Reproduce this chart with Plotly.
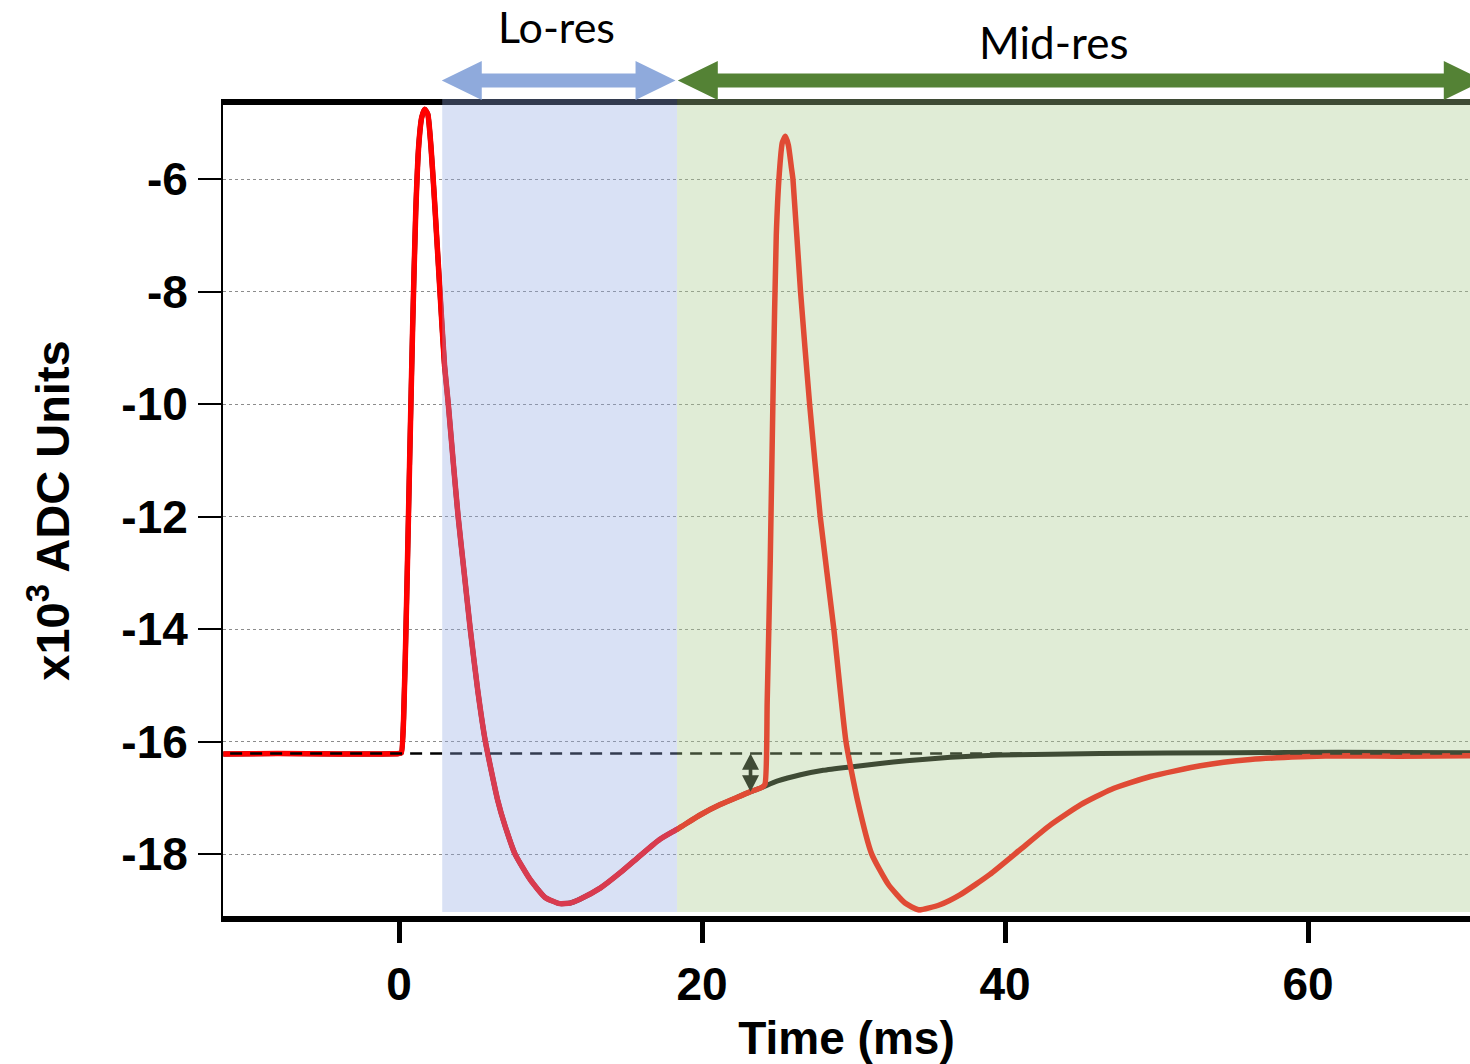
import plotly.graph_objects as go

# ---------------- data ----------------
# red trace: two-pulse response
t_red = [-11.6, -8.0, -4.0, 0.0, 0.15, 0.3, 0.5, 0.7, 0.9, 1.1, 1.3, 1.5, 1.7, 1.9, 2.1, 2.3, 2.5, 2.7,
         3.0, 3.25, 3.6, 3.9, 4.3, 4.7, 5.2, 5.7, 6.5, 7.0, 7.66, 8.65, 9.64, 10.6, 11.3, 11.95, 13.3,
         14.6, 15.9, 17.2, 18.4, 19.9, 21.2, 22.5, 23.2, 23.9, 24.15, 24.3, 24.5, 24.7, 24.9, 25.1, 25.3,
         25.5, 25.7, 25.9, 26.0, 26.5, 27.1, 27.8, 28.7, 29.5, 30.25, 31.2, 32.3, 33.4, 34.3, 35.7, 37.05,
         39.0, 41.0, 43.0, 45.0, 47.0, 49.6, 52.9, 56.2, 59.5, 62.8, 66.0, 70.7]
v_red = [-16.22, -16.21, -16.22, -16.21, -16.2, -15.6, -13.5, -11.0, -8.6, -6.6, -5.4, -4.9, -4.76, -4.85,
         -5.4, -6.2, -7.1, -8.0, -9.3, -10.0, -11.1, -12.0, -13.0, -14.0, -15.1, -16.0, -17.03, -17.5,
         -18.0, -18.45, -18.77, -18.88, -18.87, -18.8, -18.6, -18.33, -18.03, -17.74, -17.55, -17.3,
         -17.12, -16.97, -16.89, -16.82, -16.76, -15.3, -12.8, -9.6, -7.0, -5.9, -5.35, -5.24, -5.4, -5.8,
         -6.0, -8.0, -10.0, -12.0, -14.0, -16.0, -17.03, -18.0, -18.54, -18.87, -18.99, -18.9, -18.72,
         -18.36, -17.92, -17.48, -17.12, -16.85, -16.62, -16.43, -16.32, -16.27, -16.25, -16.26, -16.25]

# dark trace: single-pulse response
t_single = [-11.6, -8.0, -4.0, 0.0, 0.15, 0.3, 0.5, 0.7, 0.9, 1.1, 1.3, 1.5, 1.7, 1.9, 2.1, 2.3, 2.5, 2.7,
            3.0, 3.25, 3.6, 3.9, 4.3, 4.7, 5.2, 5.7, 6.5, 7.0, 7.66, 8.65, 9.64, 10.6, 11.3, 11.95, 13.3,
            14.6, 15.9, 17.2, 18.4, 19.9, 21.2, 22.5, 23.2, 23.9, 25.0, 26.5, 28.0, 29.8, 31.75, 33.5,
            36.4, 39.7, 46.3, 55.0, 62.0, 70.7]
v_single = [-16.22, -16.21, -16.22, -16.21, -16.2, -15.6, -13.5, -11.0, -8.6, -6.6, -5.4, -4.9, -4.76,
            -4.85, -5.4, -6.2, -7.1, -8.0, -9.3, -10.0, -11.1, -12.0, -13.0, -14.0, -15.1, -16.0, -17.03,
            -17.5, -18.0, -18.45, -18.77, -18.88, -18.87, -18.8, -18.6, -18.33, -18.03, -17.74, -17.55,
            -17.3, -17.12, -16.97, -16.89, -16.82, -16.7, -16.59, -16.51, -16.45, -16.39, -16.34,
            -16.28, -16.24, -16.21, -16.2, -16.19, -16.2]

baseline = -16.21
marker_t = 23.2            # time of the double-headed arrow
marker_low = -16.89        # single-pulse value at that time

lo_res = (2.85, 18.35)
mid_res = (18.35, 71.6)
region_labels = ["Lo-res", "Mid-res"]
label_t = [10.4, 43.2]

x_ticks = [0, 20, 40, 60]
y_ticks = [-18, -16, -14, -12, -10, -8, -6]

# ---------------- layout geometry ----------------
W, H = 1470, 1064
ML, MR, MT, MB = 223, 0, 105, 148
PH = H - MT - MB
x_range = [-11.62, 70.69]
y_range = [-19.10, -4.684]


def py(pix):
    """pixel row -> paper y"""
    return (H - MB - pix) / PH


fig = go.Figure()
fig.add_trace(go.Scatter(x=t_single, y=v_single, mode="lines",
                         line=dict(color="black", width=5, shape="spline", smoothing=0.5),
                         showlegend=False))
fig.add_trace(go.Scatter(x=t_red, y=v_red, mode="lines",
                         line=dict(color="#ff0000", width=5.5, shape="spline", smoothing=0.5),
                         showlegend=False))

shapes = []
# dashed baseline
shapes.append(dict(type="line", xref="x", yref="y", x0=-11.15, x1=x_range[1], y0=baseline, y1=baseline,
                   line=dict(color="black", width=2.5, dash="12px,8px"), layer="above"))
# small double arrow
w, s, h = 0.56, 0.12, 0.29
x = marker_t
y1, y2 = baseline, marker_low
path = (f"M {x},{y1} L {x+w},{y1-h} L {x+s},{y1-h} L {x+s},{y2+h} L {x+w},{y2+h} L {x},{y2} "
        f"L {x-w},{y2+h} L {x-s},{y2+h} L {x-s},{y1-h} L {x-w},{y1-h} Z")
shapes.append(dict(type="path", xref="x", yref="y", path=path, fillcolor="black",
                   line=dict(width=0), layer="above"))
# shaded overlays (above data, translucent)
shapes.append(dict(type="rect", xref="x", yref="paper", x0=lo_res[0], x1=lo_res[1],
                   y0=py(912), y1=py(99), fillcolor="rgba(147,170,227,0.35)",
                   line=dict(width=0), layer="above"))
shapes.append(dict(type="rect", xref="x", yref="paper", x0=mid_res[0], x1=mid_res[1],
                   y0=py(912), y1=py(99), fillcolor="rgba(170,203,143,0.37)",
                   line=dict(width=0), layer="above"))


def big_arrow(x0, x1, color):
    hl = 2.64
    yc, hh, sh = py(80.5), 19.5 / PH, 7 / PH
    p = (f"M {x0},{yc} L {x0+hl},{yc+hh} L {x0+hl},{yc+sh} L {x1-hl},{yc+sh} L {x1-hl},{yc+hh} "
         f"L {x1},{yc} L {x1-hl},{yc-hh} L {x1-hl},{yc-sh} L {x0+hl},{yc-sh} L {x0+hl},{yc-hh} Z")
    return dict(type="path", xref="x", yref="paper", path=p, fillcolor=color,
                line=dict(width=0), layer="above")


shapes.append(big_arrow(lo_res[0] - 0.03, lo_res[1] - 0.1, "#8faadc"))
shapes.append(big_arrow(mid_res[0] + 0.05, mid_res[1], "#548235"))

annotations = [
    dict(text=region_labels[0], x=label_t[0], y=py(26), xref="x", yref="paper", showarrow=False,
         xanchor="center", yanchor="middle", font=dict(family="Lato", size=43, color="black")),
    dict(text=region_labels[1], x=label_t[1], y=py(42), xref="x", yref="paper", showarrow=False,
         xanchor="center", yanchor="middle", font=dict(family="Lato", size=44, color="black")),
]

bold = dict(family="Liberation Sans, Arial", size=46, color="black", weight="bold")
bold_title = dict(family="Liberation Sans, Arial", size=47, color="black", weight="bold")

fig.update_layout(
    width=W, height=H,
    margin=dict(l=ML, r=MR, t=MT, b=MB, pad=0),
    paper_bgcolor="white", plot_bgcolor="white",
    shapes=shapes, annotations=annotations,
    xaxis=dict(range=x_range, tickvals=x_ticks, ticktext=[str(v) for v in x_ticks],
               showgrid=False, zeroline=False, showline=True, linecolor="black", linewidth=6,
               mirror=True, ticks="outside", ticklen=21, tickwidth=5, tickcolor="black",
               tickfont=bold, ticklabelstandoff=2,
               title=dict(text="Time (ms)", font=bold, standoff=16), automargin=False),
    yaxis=dict(range=y_range, tickvals=y_ticks, ticktext=[str(v) for v in y_ticks],
               showgrid=True, gridcolor="#8c8c8c", gridwidth=1, griddash="dot",
               zeroline=False, showline=True, linecolor="black", linewidth=2, mirror=False,
               ticks="outside", ticklen=23, tickwidth=2, tickcolor="black",
               tickfont=bold, ticklabelstandoff=1,
               title=dict(text="x10<sup>3</sup> ADC Units", font=bold_title, standoff=37),
               automargin=False),
)

fig.write_html("out.html")
